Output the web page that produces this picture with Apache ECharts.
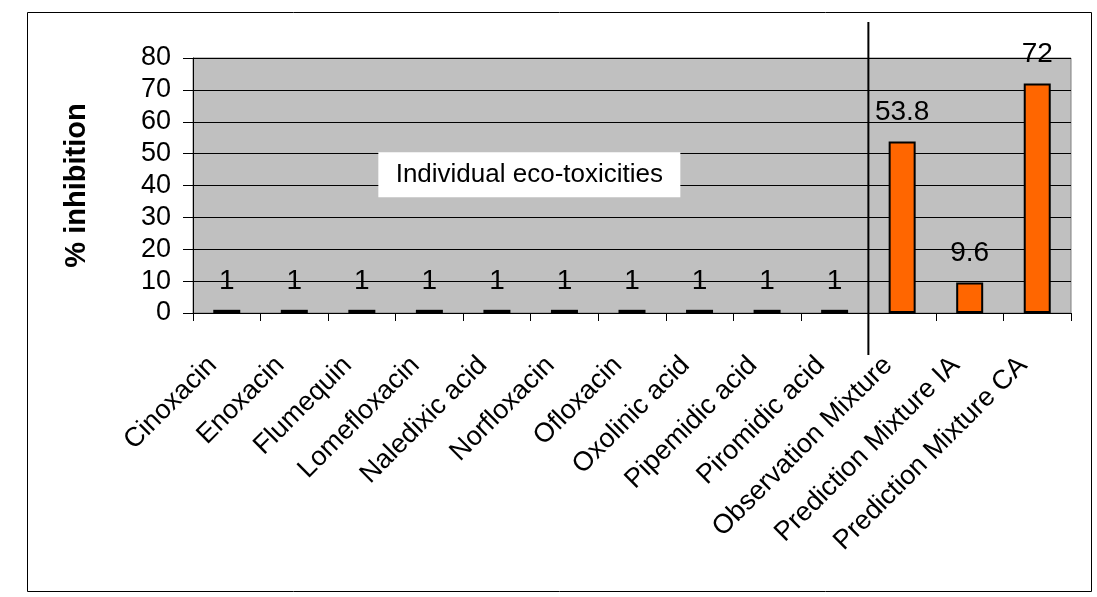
<!DOCTYPE html>
<html><head><meta charset="utf-8">
<script src="https://cdn.jsdelivr.net/npm/echarts@6/dist/echarts.min.js"></script>
<style>html,body{margin:0;padding:0;background:#fff}#c{width:1097px;height:597px}</style>
</head><body><div id="c"></div>
<script>
var categories = ['Cinoxacin','Enoxacin','Flumequin','Lomefloxacin','Naledixic acid','Norfloxacin','Ofloxacin','Oxolinic acid','Pipemidic acid','Piromidic acid','Observation Mixture','Prediction Mixture IA','Prediction Mixture CA'];
var values = [1,1,1,1,1,1,1,1,1,1,53.8,9.6,72];
var yTicks = [0,10,20,30,40,50,60,70,80];
var dividerAt = 10;
var annotation = 'Individual eco-toxicities';

var chart = echarts.init(document.getElementById('c'), null, {renderer:'canvas'});
var F = 'Liberation Sans, Arial, sans-serif';
chart.setOption({
  animation:false,
  backgroundColor:'#fff',
  grid:{left:193, top:58, right:26, bottom:284, show:true, backgroundColor:'#C0C0C0', borderColor:'#808080', borderWidth:1},
  xAxis:[{
    type:'category', data:categories, boundaryGap:true,
    axisLine:{lineStyle:{color:'#000', width:1}},
    axisTick:{show:true, alignWithLabel:false, length:8, lineStyle:{color:'#000'}},
    axisLabel:{rotate:45, fontFamily:F, fontSize:27, color:'#000', margin:34, padding:[0,20,0,0], interval:0}
  },{
    type:'value', min:0, max:categories.length, show:false
  }],
  yAxis:{
    type:'value', min:yTicks[0], max:yTicks[yTicks.length-1], interval:10,
    name:'% inhibition', nameLocation:'middle', nameGap:102, nameRotate:90,
    nameTextStyle:{fontFamily:F, fontSize:29, fontWeight:'bold', color:'#000'},
    axisLine:{show:true, lineStyle:{color:'#000'}},
    axisTick:{show:true, length:10, inside:false, lineStyle:{color:'#000'}},
    axisLabel:{fontFamily:F, fontSize:27, color:'#000', margin:22},
    splitLine:{show:true, lineStyle:{color:'#000', width:1}}
  },
  series:[{
    type:'bar', data:values, barWidth:27, xAxisIndex:0,
    itemStyle:{color:'#FF6600', borderColor:'#000', borderWidth:2},
    label:{show:true, position:'top', distance:15, fontFamily:F, fontSize:28, color:'#000'}
  }]
});
var xDiv = chart.convertToPixel({xAxisIndex:1}, dividerAt);
var yTop = chart.convertToPixel({yAxisIndex:0}, 80);
var yBot = chart.convertToPixel({yAxisIndex:0}, 0);
var bx = chart.convertToPixel({xAxisIndex:1}, 4.98);
var by = chart.convertToPixel({yAxisIndex:0}, 43.5);
chart.setOption({
  graphic:[
    {type:'rect', shape:{x:27.5, y:12.5, width:1064, height:579}, style:{fill:'none', stroke:'#000', lineWidth:1}, z:-1, silent:true},
    {type:'line', shape:{x1:xDiv, y1:yTop-36, x2:xDiv, y2:yBot+42}, style:{stroke:'#000', lineWidth:2}, z:100},
    {type:'rect', shape:{x:bx-151, y:by-22, width:302, height:45}, style:{fill:'#fff'}, z:100},
    {type:'text', x:bx, y:by, style:{text:annotation, fontFamily:F, fontSize:26, fill:'#000', align:'center', verticalAlign:'middle'}, z:101}
  ]
});
</script></body></html>
